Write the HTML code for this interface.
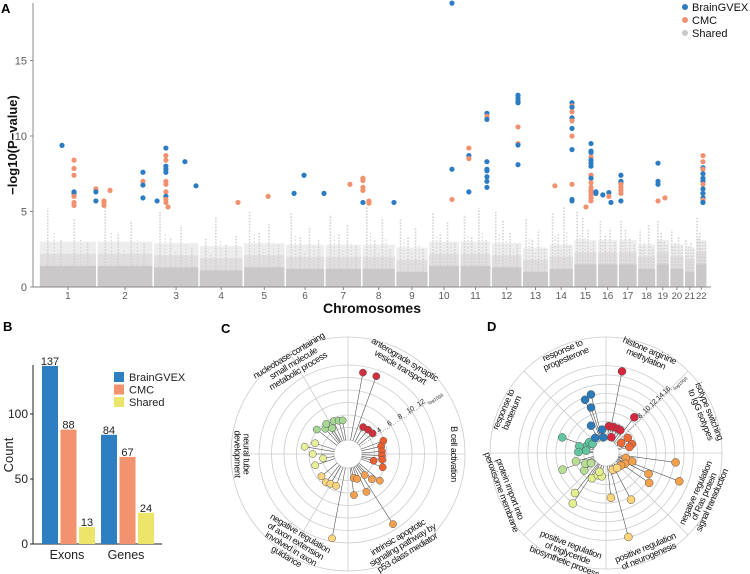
<!DOCTYPE html>
<html><head><meta charset="utf-8">
<style>
body{margin:0;background:#fff;}
svg{display:block;font-family:"Liberation Sans",sans-serif;}
</style></head>
<body>
<svg id="fig" width="750" height="574" viewBox="0 0 750 574">
<g id="pa"></g>
<g id="pb"></g>
<g id="pc"></g>
<g id="pd"></g>
</svg>
<script>
// ---------- Panel A data ----------
const chrLengths=[249,243,198,191,181,171,159,146,141,136,135,134,115,107,102,90,83,80,59,63,48,51];
const chrLabels=["1","2","3","4","5","6","7","8","9","10","11","12","13","14","15","16","17","18","19","20","21","22"];
const yTicksA=[0,5,10,15];
const grayBase=[1.4,1.4,1.3,1.1,1.3,1.2,1.2,1.2,1.0,1.4,1.4,1.3,1.0,1.2,1.5,1.5,1.5,1.2,1.5,1.2,1.0,1.5];
const graySpikes=[[5.2,3.2,4.5,2.9],[5.3,3.6,4.4,3.0],[5.0,3.3,4.1,2.6],[3.2,4.6,2.8,3.4],[5.0,3.6,4.2,2.8],[4.9,3.4,4.0,3.1],[4.8,3.5,4.1,2.7],[5.3,3.2,4.6,2.5],[4.5,3.3,4.0,2.6],[4.9,3.6,4.3,3.0],[4.8,3.4,5.2,3.1],[5.0,4.4,3.6,2.9],[4.5,3.2,3.8,2.6],[4.9,3.5,5.3,2.8],[5.0,4.6,3.8,3.1],[4.4,3.5,3.9,3.0],[4.4,3.8,3.2,2.9],[3.8,3.0,4.1,2.6],[4.4,3.6,3.0,2.8],[3.8,3.0,3.4,2.7],[3.1,2.7,3.0,2.6],[4.6,3.6,3.0,3.0]];
const sigPos=[98.8,150.6,150.6,150.6,150.6,150.6,150.6,150.6,150.6,245,245,245,280,280,280,306,448,448,448,448,509,547,547,547,547,547,547,547,547,547,547,547,547,556,629,677,858,988,1100,1143,1229,1341,1397,1397,1397,1397,1397,1423,1423,1531,1781,1781,1781,1854,1854,1854,1854,1932,1932,1932,1932,1932,1932,1932,1932,1932,2066,2066,2066,2066,2066,2066,2066,2066,2225,2299,2299,2299,2299,2299,2299,2299,2299,2299,2299,2299,2299,2359,2381,2381,2381,2381,2381,2381,2381,2381,2381,2381,2381,2381,2381,2381,2381,2381,2381,2381,2402,2402,2432,2458,2458,2467,2510,2510,2510,2510,2510,2510,2510,2510,2670,2670,2670,2670,2700,2864,2864,2864,2864,2864,2864,2864,2864,2864,2864,2864,2864,2864,2864,2864];
const sigVal=[9.38,8.4,7.85,7.4,6.3,6.2,6.0,5.6,5.4,6.5,6.3,5.7,5.7,5.6,5.4,6.4,7.6,7.0,6.75,5.9,5.7,9.2,8.7,8.4,8.0,7.8,7.6,7.0,6.8,6.3,6.0,5.8,5.6,5.3,8.3,6.7,5.6,6.0,6.2,7.4,6.2,6.8,7.2,7.05,6.6,6.4,5.6,5.55,5.7,5.6,18.8,7.8,5.8,9.2,8.7,8.5,6.3,11.5,11.3,11.1,8.3,7.8,7.7,7.3,7.0,6.6,12.7,12.5,12.3,12.2,10.6,9.5,9.4,8.1,6.7,12.2,12.0,11.9,11.6,11.2,11.0,10.5,10.0,9.1,6.8,5.8,5.7,5.3,9.5,9.0,8.9,8.6,8.4,8.2,8.0,7.4,7.4,7.2,6.9,6.6,6.4,6.3,6.1,5.9,5.7,5.9,6.3,6.2,6.1,6.25,6.0,5.6,7.4,7.0,6.9,6.8,6.6,6.4,6.2,5.7,8.2,7.0,6.8,5.7,5.9,8.7,8.3,7.9,7.8,7.5,7.2,7.2,7.0,6.8,6.5,6.2,5.9,5.75,5.6,5.6];
const sigSeries="BOOOBBOOOOBBOOOOBOBBBBOOBBBOOOBOOOBBOOBBBOOOOOBOOBBBOOBOBBOBBBBBBBBBBBOOBBOBOBOBOBOBOBBOBBBOBBBBOBOOOOOOOOBBBBOBBBBOOOOBBBBOOOOBOBOBBOBBBOBBBBB";
// ---------- Panel B data ----------
const barGroups=["Exons","Genes"];
const barSeries=["BrainGVEX","CMC","Shared"];
const barBrain=[137,84];
const barCMC=[88,67];
const barShared=[13,24];
const yTicksB=[0,50,100];
// ---------- Panel C data ----------
const cAng=[79.6,70,60.7,50.5,40,20.5,13,4.5,-2.9,-9.5,-14.6,-21,-76.7,-70,-51.5,-46.5,-40,-81.7,-64,-57.3,-140,-128,-120.5,-110.6,-100.7,170.4,161.9,180,-170,-161,141.9,132,121.6,125.9,113.6,105.6,99];
const cVal=[11.0,11.0,2.7,2.8,2.9,3.8,3.2,3.2,3.2,3.3,2.0,3.7,1.7,2.0,2.05,3.3,4.4,4.4,4.5,11.1,3.3,3.5,3.3,3.2,11.5,4.8,3.3,3.4,1.8,3.3,4.1,3.2,2.6,3.7,3.5,3.3,3.2];
const cGrp=[0,0,0,0,0,1,1,1,1,1,1,1,2,2,2,2,2,2,2,2,3,3,3,3,3,4,4,4,4,4,5,5,5,5,5,5,5];
const cTicks=[4,6,8,10,12];
const cLabels=[["nucleobase-containing","small molecule","metabolic process"],["anterograde synaptic","vesicle transport"],["B cell activation"],["intrinsic apoptotic","signaling pathway by","p53 class mediator"],["negative regulation","of axon extension","involved in axon","guidance"],["neural tube","development"]];
const cLabelAng=[121,59,0,-59,-121,180];
// ---------- Panel D data ----------
const dAng=[78.9,51.6,84,73.5,64.3,57.8,71,34.7,19,14.4,33.7,-7.7,-21.1,-26.2,-34.7,-17.8,-14,-29.3,-39.4,-83.7,-75.1,-61.8,-68,-53.7,-127.8,-123.3,-119,-110,-100.5,-109.4,-159,-164.5,-141.4,-152.7,-146,160.4,165.9,178,158,147.4,146,173.4,111.5,104.4,108.2,118.8,99.7,125.5,99.8];
const dVal=[15.1,7.0,3.0,3.0,3.0,3.0,0.8,2.9,3.1,2.4,1.1,12.3,14.1,7.4,8.5,3.1,1.6,1.9,1.4,6.9,15.9,8.6,1.1,1.2,8.1,10.2,3.4,2.3,2.3,1.5,7.2,3.9,3.2,2.2,1.1,7.2,3.1,3.1,1.6,1.5,0.7,1.5,9.5,10.2,7.5,3.9,2.3,1.2,0.6];
const dGrp=[0,0,0,0,0,0,0,1,1,1,1,2,2,2,2,2,2,2,2,3,3,3,3,3,4,4,4,4,4,4,5,5,5,5,5,6,6,6,6,6,6,6,7,7,7,7,7,7,7];
const dTicks=[8,10,12,14,16];
const dLabels=[["histone arginine","methylation"],["isotype switching","to IgG isotypes"],["negative regulation","of Ras protein","signal transduction"],["positive regulation","of neurogenesis"],["positive regulation","of triglyceride","biosynthetic process"],["protein import into","peroxisome membrane"],["response to","bacterium"],["response to","progesterone"]];
const dLabelAng=[67,22,-24,-67.5,-111,-159.5,157,113];

const NS="http://www.w3.org/2000/svg";
function mk(parent,tag,attrs,text){const e=document.createElementNS(NS,tag);for(const k in attrs)e.setAttribute(k,attrs[k]);if(text!==undefined)e.textContent=text;parent.appendChild(e);return e;}

// ---------- Panel A ----------
(function(){
const g=document.getElementById('pa');
const xA=mb=>39.1+mb*0.2318, yA=v=>287-v*15.1;
const starts=[];let c=0;chrLengths.forEach(l=>{starts.push(c);c+=l;});
const bg=mk(g,'g',{});
chrLengths.forEach((l,i)=>{
  const x0=xA(starts[i])+0.8,x1=xA(starts[i]+l)-0.8;
  // fading density layers
  [[grayBase[i]+1.6,'#eeeded'],[grayBase[i]+0.8,'#e0dede'],[grayBase[i],'#cac8c8']].forEach(s=>{
    mk(bg,'rect',{x:x0,y:yA(s[0]),width:x1-x0,height:yA(0)-yA(s[0]),fill:s[1]});
  });
  graySpikes[i].forEach((h,j)=>{
    const x=xA(starts[i]+l*(0.15+0.23*j));
    mk(bg,'line',{x1:x,x2:x,y1:yA(grayBase[i]),y2:yA(h),stroke:'#d2d0d0','stroke-width':1.6,'stroke-dasharray':'1.5 1.5'});
    const x2=xA(starts[i]+l*(0.26+0.23*j));
    if(j<3)mk(bg,'line',{x1:x2,x2:x2,y1:yA(grayBase[i]),y2:yA(h*0.7),stroke:'#d6d4d4','stroke-width':1.2,'stroke-dasharray':'1.5 2'});
  });
});
const ax=mk(g,'g',{});
mk(ax,'line',{x1:33,x2:33,y1:3,y2:287,stroke:'#888','stroke-width':1});
mk(ax,'line',{x1:33,x2:711,y1:287,y2:287,stroke:'#888','stroke-width':1});
yTicksA.forEach(t=>{mk(ax,'line',{x1:30,x2:33,y1:yA(t),y2:yA(t),stroke:'#888'});
  const tx=mk(ax,'text',{x:27,y:yA(t)+4,'text-anchor':'end','font-size':11,fill:'#5a5a5a'},t);
  });
chrLabels.forEach((lab,i)=>{const x=xA(starts[i]+chrLengths[i]/2);
  mk(ax,'line',{x1:x,x2:x,y1:287,y2:290,stroke:'#888'});
  const tx=mk(ax,'text',{x:x,y:299,'text-anchor':'middle','font-size':i>=17?9.5:10,fill:'#5a5a5a'},lab);
  });
const yt=mk(g,'text',{x:0,y:0,transform:'translate(17,145) rotate(-90)','text-anchor':'middle','font-size':13,'font-weight':'bold',fill:'#111'},'\u2212log10(P\u2212value)');

const xt=mk(g,'text',{x:372,y:313,'text-anchor':'middle','font-size':14,'font-weight':'bold',fill:'#111'},'Chromosomes');

const pl=mk(g,'text',{x:1,y:13,'font-size':13,'font-weight':'bold'},'A');

sigPos.forEach((p,i)=>{const b=sigSeries[i]==='B';
  const d=mk(g,'circle',{cx:xA(p),cy:yA(sigVal[i]),r:2.6,fill:b?'#2b7cc3':'#f2916f'});
  });
const lg=mk(g,'g',{});
[['BrainGVEX','#2b7cc3'],['CMC','#f2916f'],['Shared','#cac8c8']].forEach((s,i)=>{
  const e=mk(lg,'g',{});
  mk(e,'circle',{cx:685,cy:7+i*13,r:3,fill:s[1]});
  mk(e,'text',{x:692,y:11+i*13,'font-size':11,fill:'#111'},s[0]);});
})();

// ---------- Panel B ----------
(function(){
const g=document.getElementById('pb');
const yB=v=>544-v*1.3;
const cols=['#2e7fc2','#f2926f','#ede46a'];
const vals=[barBrain,barCMC,barShared];
const gx=[42,101];
mk(g,'line',{x1:33,x2:33,y1:365,y2:544,stroke:'#222'});
mk(g,'line',{x1:33,x2:162,y1:544,y2:544,stroke:'#222'});
yTicksB.forEach(t=>{mk(g,'line',{x1:30,x2:33,y1:yB(t),y2:yB(t),stroke:'#222'});
  const tx=mk(g,'text',{x:28,y:yB(t)+4,'text-anchor':'end','font-size':12,fill:'#222'},t);
  });
barGroups.forEach((grp,gi)=>{
  vals.forEach((arr,si)=>{const x=gx[gi]+si*18.5,v=arr[gi];
    const r=mk(g,'rect',{x:x,y:yB(v),width:16,height:yB(0)-yB(v),fill:cols[si]});
    
    const t=mk(g,'text',{x:x+8,y:yB(v)-1,'text-anchor':'middle','font-size':11,fill:'#222'},v);
    });
  const t=mk(g,'text',{x:gx[gi]+25,y:559,'text-anchor':'middle','font-size':12.5,fill:'#222'},grp);
  });
const yt=mk(g,'text',{x:0,y:0,transform:'translate(13,455) rotate(-90)','text-anchor':'middle','font-size':13,fill:'#222'},'Count');

barSeries.forEach((s,i)=>{const e=mk(g,'g',{});
  mk(e,'rect',{x:114,y:372+i*12.5,width:10,height:10,fill:cols[i]});
  mk(e,'text',{x:129,y:381+i*12.5,'font-size':11,fill:'#222'},s);});
const pl=mk(g,'text',{x:3,y:331,'font-size':13,'font-weight':'bold'},'B');

})();

// ---------- Polar panels ----------
function polar(g,cx,cy,R,r0,k,maxV,step,ticks,tickAng,dividers,ang,val,grp,colors,labels,labelAng,labelR,dotR){
  const rad=a=>a*Math.PI/180;
  const P=(a,r)=>[cx+r*Math.cos(rad(a)),cy-r*Math.sin(rad(a))];
  const rs=v=>r0+k*v;
  const grid=mk(g,'g',{});
  mk(grid,'circle',{cx,cy,r:R,fill:'none',stroke:'#ccc','stroke-width':0.8});
  for(let v=0;v<=maxV;v+=step)mk(grid,'circle',{cx,cy,r:rs(v),fill:'none',stroke:'#ccc','stroke-width':0.8});
  dividers.forEach(a=>{const p1=P(a,r0),p2=P(a,R);mk(grid,'line',{x1:p1[0],y1:p1[1],x2:p2[0],y2:p2[1],stroke:'#ccc','stroke-width':0.8});});
  const pa=P(tickAng,r0),pb=P(tickAng,rs(ticks[ticks.length-1])+8);
  mk(grid,'line',{x1:pa[0],y1:pa[1],x2:pb[0],y2:pb[1],stroke:'#666','stroke-width':0.6,'stroke-dasharray':'1 1.5'});
  ticks.forEach(t=>{const p=P(tickAng,rs(t));const tx=mk(grid,'text',{x:p[0],y:p[1]-1,'text-anchor':'middle','font-size':7,fill:'#222',transform:`rotate(${-tickAng} ${p[0]} ${p[1]})`},t);
    });
  const pe=P(tickAng,rs(ticks[ticks.length-1])+14);
  const ut=mk(grid,'text',{x:pe[0],y:pe[1]+3,'text-anchor':'middle','font-size':4.5,fill:'#222',transform:`rotate(${-tickAng} ${pe[0]} ${pe[1]})`},'-log10(p)');
  
  ang.forEach((a,i)=>{const p=P(a,rs(val[i])),q=P(a,r0);
    const l=mk(g,'line',{x1:q[0],y1:q[1],x2:p[0],y2:p[1],stroke:'#555','stroke-width':0.6});
    });
  ang.forEach((a,i)=>{const p=P(a,rs(val[i]));
    const d=mk(g,'circle',{cx:p[0],cy:p[1],r:dotR,fill:colors[grp[i]],stroke:'#555','stroke-width':0.5});
    });
  labels.forEach((lines,i)=>{const a=labelAng[i];const p=P(a,labelR);
    const top=a>=0&&a<180;const rot=top?90-a:-90-a;
    const lg=mk(g,'text',{x:0,y:0,'text-anchor':'middle','font-size':9,'letter-spacing':-0.4,fill:'#111',transform:`translate(${p[0]},${p[1]}) rotate(${rot})`});
    
    const n=lines.length,lh=9;
    lines.forEach((ln,j)=>{mk(lg,'tspan',{x:0,y:(j-(n-1)/2)*lh+3},ln);});
  });
}
polar(document.getElementById('pc'),348,454,117,14,6.25,12,2,[4,6,8,10,12],33,[0,90,120,180,240,270],cAng,cVal,cGrp,
  ['#d22f3c','#ef5e2e','#f6a04e','#fdd57e','#e8f09a','#a6d893'],cLabels,cLabelAng,106,3.6);
polar(document.getElementById('pd'),606,453,116,13,4.65,16,2,[8,10,12,14,16],44,[0,45,90,135,180,225,270,315],dAng,dVal,dGrp,
  ['#d7263d','#ef6a35','#f5a04a','#fdd47a','#e3ef8f','#b7de94','#5fc6a0','#2b7bba'],dLabels,dLabelAng,107,4);
(function(){
const c=mk(document.getElementById('pc'),'text',{x:221,y:333,'font-size':13,'font-weight':'bold'},'C');

const d=mk(document.getElementById('pd'),'text',{x:487,y:331,'font-size':13,'font-weight':'bold'},'D');

})();
</script>
</body></html>
